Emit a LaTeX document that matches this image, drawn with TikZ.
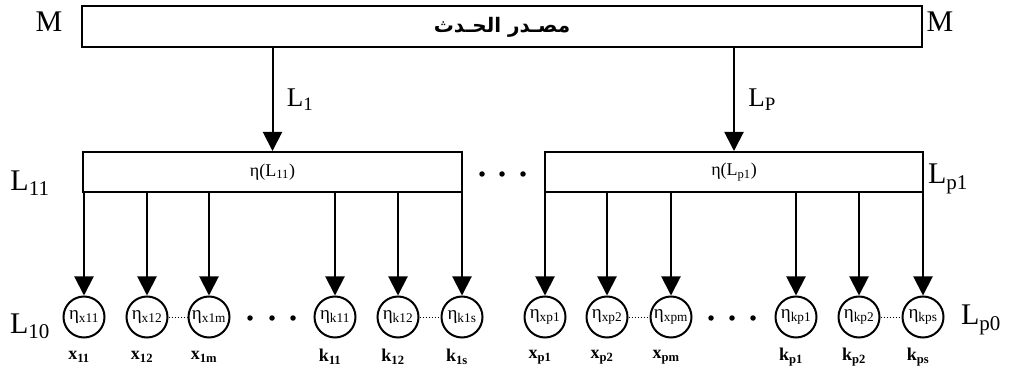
\documentclass[tikz,border=0pt]{standalone}
\usepackage{fontspec}
\setmainfont{Liberation Serif}
\newfontfamily\arabicfont[Script=Arabic]{DejaVu Sans}
\TeXXeTstate=1
\usetikzlibrary{arrows.meta}
\newcommand\sbs[2]{#1\textsubscript{#2}}
\newcommand\fsz[1]{\fontsize{#1}{#1}\selectfont}

\begin{document}
\begin{tikzpicture}[x=1pt,y=-1pt,
  frame/.style={draw, line width=2pt, inner sep=0pt},
  ring/.style={draw, circle, line width=2pt, inner sep=0pt, minimum size=41pt},
  arr/.style={line width=2pt, -{Triangle[length=19pt,width=19pt]}},
  big/.style={inner sep=0pt, font=\fsz{30}},
  mid/.style={inner sep=0pt, font=\fsz{27}},
  lab/.style={inner sep=0pt, font=\fsz{18}\bfseries},
  dot/.style={circle, fill, inner sep=0pt, minimum size=5.5pt}
]
\useasboundingbox (0,0) rectangle (1009,371);

% event source
\node[frame, minimum width=840pt, minimum height=41pt] (src) at (502,27)
  {\fsz{20}\arabicfont\bfseries\beginR مصـدر الحـدث\endR};
\node[big] (mL) at (49,22) {M};
\node[big] (mR) at (940,22) {M};

% second level boxes
\node[frame, minimum width=379pt, minimum height=40pt] (bl) at (272.5,172)
  {\fsz{18}η(\sbs{L}{11})};
\node[frame, minimum width=378pt, minimum height=40pt] (br) at (734,172)
  {\fsz{18}η(\sbs{L}{p1})};
\node[big] (l11) at (30,183) {\sbs{L}{11}};
\node[big] (lp1) at (948,179) {\sbs{L}{p1}};

\draw[arr] (src.south -| bl) -- (bl.north);
\draw[arr] (src.south -| br) -- (br.north);
\node[mid] (l1) at (300,100) {\sbs{L}{1}};
\node[mid] (lP) at (762,100) {\sbs{L}{P}};

\node[dot] (d1) at (482,174) {};
\node[dot] (d2) at (502,174) {};
\node[dot] (d3) at (523,174) {};

% leaf nodes
\foreach \n/\x/\t in {
  1/84/x11, 2/147/x12, 3/209/x1m,
  4/335/k11, 5/398/k12, 6/462/k1s,
  7/545/xp1, 8/607/xp2, 9/671/xpm,
  10/796/kp1, 11/859/kp2, 12/923/kps}{
  \node[ring, label={[inner sep=0pt, font=\fsz{19}]center:\sbs{η}{\t}}] (c\n) at (\x,317) {};
}
\foreach \n/\b/\s in {1/x/11, 2/x/12, 3/x/1m, 4/k/11, 5/k/12, 6/k/1s,
  7/x/p1, 8/x/p2, 9/x/pm, 10/k/p1, 11/k/p2, 12/k/ps}{
  \node[lab] (t\n) at ([shift={(-5,40)}]c\n.center) {\sbs{\b}{\s}};
}

\foreach \n in {1,2,3,4,5,6}{
  \draw[arr] (bl.south -| c\n) -- (c\n.north);
}
\foreach \n in {7,8,9,10,11,12}{
  \draw[arr] (br.south -| c\n) -- (c\n.north);
}

\draw[line width=1pt, dotted] (c2.east) -- (c3.west);
\draw[line width=1pt, dotted] (c5.east) -- (c6.west);
\draw[line width=1pt, dotted] (c8.east) -- (c9.west);
\draw[line width=1pt, dotted] (c11.east) -- (c12.west);

\node[dot] (e1) at (250,318) {};
\node[dot] (e2) at (272,318) {};
\node[dot] (e3) at (293,318) {};
\node[dot] (e4) at (711,318) {};
\node[dot] (e5) at (732,318) {};
\node[dot] (e6) at (753,318) {};

\node[big] (l10) at (30,326) {\sbs{L}{10}};
\node[big] (lp0) at (981,320) {\sbs{L}{p0}};
\end{tikzpicture}
\end{document}
